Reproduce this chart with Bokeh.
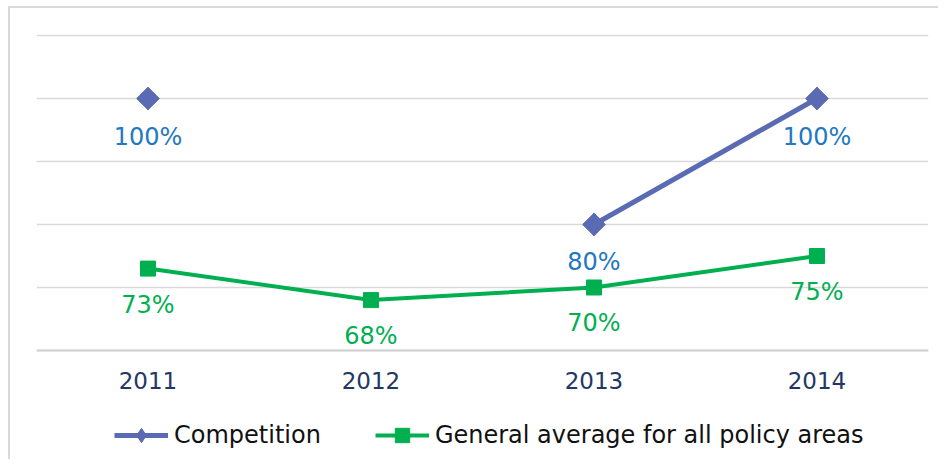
import math
from bokeh.plotting import figure
from bokeh.models import Range1d, FixedTicker, Legend, LegendItem, ColumnDataSource
from bokeh.core.properties import value
from bokeh.embed import file_html
from bokeh.resources import INLINE

years = ["2011", "2012", "2013", "2014"]
competition = [100, float("nan"), 80, 100]
general = [73, 68, 70, 75]
grid_ticks = [60, 70, 80, 90, 100, 110]

FONT = "DejaVu Sans"
BLUE_LINE = "#5B6BB3"
BLUE_TXT = "#2478BF"
GREEN = "#00B050"

p = figure(x_range=years, y_range=Range1d(43.49, 110.16), frame_width=892, frame_height=420,
           output_backend="svg", toolbar_location=None,
           min_border_left=26, min_border_right=10, min_border_top=26, min_border_bottom=5)
p.x_range.range_padding = 0
p.outline_line_color = None
p.styles = {"border-top": "2px solid #D9D9D9", "border-left": "2px solid #D9D9D9",
            "margin-left": "8px", "margin-top": "6px"}

p.yaxis.visible = False
p.ygrid.ticker = FixedTicker(ticks=grid_ticks)
p.ygrid.grid_line_color = "#D9D9D9"
p.ygrid.grid_line_width = 1.3
p.xgrid.grid_line_color = None

p.xaxis.fixed_location = grid_ticks[0]
p.xaxis.axis_line_color = "#D0D0D0"
p.xaxis.axis_line_width = 2
p.xaxis.major_tick_line_color = None
p.xaxis.minor_tick_line_color = None
p.xaxis.major_label_standoff = 16
p.xaxis.major_label_text_font = FONT
p.xaxis.major_label_text_font_size = "23px"
p.xaxis.major_label_text_color = "#1F3864"

comp_src = ColumnDataSource(dict(x=years, y=competition,
                                 t=["" if v != v else f"{int(v)}%" for v in competition]))
gen_src = ColumnDataSource(dict(x=years, y=general, t=[f"{v}%" for v in general]))

l1 = p.line("x", "y", source=comp_src, line_color=BLUE_LINE, line_width=5)
# diamond marker (used by the legend), covered by a rotated square for the chart's look
m1 = p.scatter("x", "y", source=comp_src, marker="diamond", size=22, color=BLUE_LINE)
p.scatter("x", "y", source=comp_src, marker="square", angle=math.pi / 4, size=16,
          color=BLUE_LINE)
l2 = p.line("x", "y", source=gen_src, line_color=GREEN, line_width=4)
m2 = p.scatter("x", "y", source=gen_src, marker="square", size=15, color=GREEN)

p.text("x", "y", text="t", source=comp_src, y_offset=38, text_align="center",
       text_baseline="middle", text_font=value(FONT), text_font_size="24px",
       text_color=BLUE_TXT)
p.text("x", "y", text="t", source=gen_src, y_offset=36, text_align="center",
       text_baseline="middle", text_font=value(FONT), text_font_size="24px",
       text_color=GREEN)

legend = Legend(items=[LegendItem(label="Competition", renderers=[l1, m1]),
                       LegendItem(label="General average for all policy areas", renderers=[l2, m2])],
                orientation="horizontal", location=(78, 1),
                border_line_color=None, background_fill_alpha=0,
                label_text_font=FONT, label_text_font_size="24px", label_text_color="#111111",
                glyph_width=54, glyph_height=36, label_standoff=6, spacing=54, padding=0, margin=0)
p.add_layout(legend, "center")

open("out.html", "w").write(file_html(p, INLINE))
